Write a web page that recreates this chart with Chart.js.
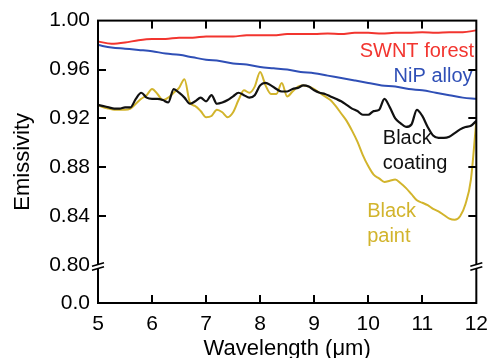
<!DOCTYPE html>
<html>
<head>
<meta charset="utf-8">
<script src="https://cdn.jsdelivr.net/npm/chart.js@4.4.0/dist/chart.umd.min.js"></script>
<style>
  html, body { margin: 0; padding: 0; background: #fff; }
</style>
</head>
<body>
<canvas id="emissivityChart" width="497" height="358"></canvas>
<script>
// wavelength grid (µm) for the two black samples
const wavelengths = [
  5.0, 5.1, 5.2, 5.3, 5.4, 5.5, 5.6, 5.7, 5.8, 5.9,
  6.0, 6.1, 6.2, 6.3, 6.4, 6.5, 6.6, 6.7, 6.8, 6.9,
  7.0, 7.1, 7.2, 7.3, 7.4, 7.5, 7.6, 7.7, 7.8, 7.9,
  8.0, 8.1, 8.2, 8.3, 8.4, 8.5, 8.6, 8.7, 8.8, 8.9,
  9.0, 9.1, 9.2, 9.3, 9.4, 9.5, 9.6, 9.7, 9.8, 9.9,
  10.0, 10.1, 10.2, 10.3, 10.4, 10.5, 10.6, 10.7, 10.8, 10.9,
  11.0, 11.1, 11.2, 11.3, 11.4, 11.5, 11.6, 11.7, 11.8, 11.9,
  12.0,
];

const blackCoating = [
  0.931, 0.930, 0.929, 0.928, 0.928, 0.929, 0.929, 0.936, 0.941, 0.937,
  0.936, 0.936, 0.935, 0.933, 0.944, 0.941, 0.937, 0.932, 0.934, 0.937,
  0.934, 0.939, 0.932, 0.933, 0.935, 0.938, 0.941, 0.939, 0.937, 0.939,
  0.947, 0.949, 0.947, 0.944, 0.942, 0.942, 0.944, 0.945, 0.947, 0.946,
  0.943, 0.941, 0.940, 0.938, 0.936, 0.934, 0.931, 0.928, 0.926, 0.923,
  0.923, 0.926, 0.927, 0.936, 0.929, 0.920, 0.916, 0.913, 0.915, 0.927,
  0.922, 0.913, 0.906, 0.904, 0.904, 0.905, 0.908, 0.911, 0.913, 0.914,
  0.918,
];

const blackPaint = [
  0.931, 0.929, 0.928, 0.927, 0.927, 0.927, 0.928, 0.932, 0.936, 0.939,
  0.944, 0.940, 0.935, 0.937, 0.941, 0.945, 0.952, 0.933, 0.930, 0.926,
  0.921, 0.922, 0.927, 0.925, 0.921, 0.925, 0.935, 0.943, 0.941, 0.946,
  0.958, 0.947, 0.940, 0.940, 0.949, 0.938, 0.942, 0.946, 0.947, 0.946,
  0.944, 0.941, 0.938, 0.935, 0.930, 0.924, 0.918, 0.910, 0.901, 0.890,
  0.881, 0.874, 0.871, 0.868, 0.869, 0.870, 0.867, 0.863, 0.858, 0.853,
  0.851, 0.849, 0.846, 0.844, 0.841, 0.838, 0.837, 0.840, 0.850, 0.870,
  0.918,
];

// coarser grid for the two smooth samples
const coarseWavelengths = [
  5.0, 5.25, 5.5, 5.75, 6.0, 6.25, 6.5, 6.75, 7.0, 7.25,
  7.5, 7.75, 8.0, 8.25, 8.5, 8.75, 9.0, 9.25, 9.5, 9.75,
  10.0, 10.25, 10.5, 10.75, 11.0, 11.25, 11.5, 11.75, 12.0,
];

const swntForest = [
  0.983, 0.981, 0.982, 0.984, 0.985, 0.985, 0.986, 0.986, 0.987, 0.987,
  0.987, 0.988, 0.988, 0.988, 0.989, 0.989, 0.989, 0.9895, 0.989, 0.990,
  0.990, 0.9895, 0.990, 0.990, 0.9905, 0.990, 0.9905, 0.9905, 0.992,
];

const nipAlloy = [
  0.980, 0.978, 0.977, 0.976, 0.975, 0.973, 0.972, 0.970, 0.968, 0.967,
  0.965, 0.964, 0.962, 0.961, 0.960, 0.958, 0.957, 0.955, 0.953, 0.951,
  0.949, 0.947, 0.946, 0.944, 0.943, 0.941, 0.939, 0.937, 0.936,
];

// broken y axis: everything below 0.80 is squeezed into a short stub labelled 0.0
const breakValue = 0.80;
const yAxisMin = 0.769;
const yTickValues = [yAxisMin, 0.80, 0.84, 0.88, 0.92, 0.96, 1.00];
const xTickValues = [5, 6, 7, 8, 9, 10, 11, 12];

const colors = {
  coating: "#111111",
  paint: "#d2b42c",
  swnt: "#f2352f",
  nip: "#2f4fb6",
};

const seriesLabels = [
  { lines: ["SWNT forest"], x: 11.96, y: 0.9706, align: "right", color: colors.swnt },
  { lines: ["NiP alloy"], x: 11.93, y: 0.9494, align: "right", color: colors.nip },
  { lines: ["Black", "coating"], x: 10.27, y: 0.8988, align: "left", color: colors.coating },
  { lines: ["Black", "paint"], x: 9.98, y: 0.8392, align: "left", color: colors.paint },
];

const fontFamily = "'Liberation Sans', Arial, Helvetica, sans-serif";

function points(xs, ys) {
  return xs.map((x, i) => ({ x, y: ys[i] }));
}

const frameAndBreaks = {
  id: "frameAndBreaks",
  afterDraw(chart) {
    const { ctx, chartArea: area, scales } = chart;
    const xScale = scales.x;
    const yScale = scales.y;
    const tickLen = 8;
    ctx.save();
    ctx.strokeStyle = "#000000";
    ctx.fillStyle = "#000000";
    ctx.lineWidth = 2;
    ctx.strokeRect(area.left, area.top, area.right - area.left, area.bottom - area.top);

    // inward tick marks on all four sides
    xTickValues.slice(1, -1).forEach((value) => {
      const px = Math.round(xScale.getPixelForValue(value));
      ctx.fillRect(px - 1, area.bottom - tickLen, 2, tickLen);
      ctx.fillRect(px - 1, area.top, 2, tickLen);
    });
    yTickValues.filter((v) => v > breakValue && v < 1.0).forEach((value) => {
      const py = Math.round(yScale.getPixelForValue(value));
      ctx.fillRect(area.left, py - 1, tickLen, 2);
      ctx.fillRect(area.right - tickLen, py - 1, tickLen, 2);
    });

    // axis break marks
    const by = yScale.getPixelForValue(breakValue) + 1.5;
    [area.left, area.right].forEach((bx) => {
      ctx.fillStyle = "#ffffff";
      ctx.beginPath();
      ctx.moveTo(bx - 6, by - 0.25);
      ctx.lineTo(bx + 6, by - 3.75);
      ctx.lineTo(bx + 6, by + 0.25);
      ctx.lineTo(bx - 6, by + 3.75);
      ctx.closePath();
      ctx.fill();
      ctx.lineWidth = 1.6;
      ctx.beginPath();
      ctx.moveTo(bx - 6, by - 0.25);
      ctx.lineTo(bx + 6, by - 3.75);
      ctx.moveTo(bx - 6, by + 3.75);
      ctx.lineTo(bx + 6, by + 0.25);
      ctx.stroke();
    });
    ctx.restore();
  },
};

const seriesLabelPlugin = {
  id: "seriesLabels",
  afterDraw(chart) {
    const { ctx, scales } = chart;
    ctx.save();
    ctx.font = `20px ${fontFamily}`;
    ctx.textBaseline = "alphabetic";
    seriesLabels.forEach((label) => {
      ctx.fillStyle = label.color;
      ctx.textAlign = label.align;
      const px = scales.x.getPixelForValue(label.x);
      const py = scales.y.getPixelForValue(label.y);
      label.lines.forEach((line, i) => ctx.fillText(line, px, py + i * 25));
    });
    ctx.restore();
  },
};

new Chart(document.querySelector("#emissivityChart"), {
  type: "line",
  data: {
    datasets: [
      { label: "Black coating", data: points(wavelengths, blackCoating), borderColor: colors.coating, borderWidth: 2.2 },
      { label: "Black paint", data: points(wavelengths, blackPaint), borderColor: colors.paint, borderWidth: 2 },
      { label: "SWNT forest", data: points(coarseWavelengths, swntForest), borderColor: colors.swnt, borderWidth: 2 },
      { label: "NiP alloy", data: points(coarseWavelengths, nipAlloy), borderColor: colors.nip, borderWidth: 2 },
    ],
  },
  options: {
    responsive: false,
    animation: false,
    devicePixelRatio: 1,
    layout: { padding: { top: 20, right: 14, bottom: 0, left: 0 } },
    elements: {
      point: { radius: 0 },
      line: { cubicInterpolationMode: "monotone", fill: false },
    },
    plugins: { legend: { display: false }, tooltip: { enabled: false } },
    scales: {
      x: {
        type: "linear",
        min: 5,
        max: 12,
        grid: { display: false, drawTicks: false },
        border: { display: false },
        afterBuildTicks: (scale) => { scale.ticks = xTickValues.map((value) => ({ value })); },
        ticks: { color: "#000", padding: 9, font: { family: fontFamily, size: 21 } },
        title: {
          display: true,
          text: "Wavelength (μm)",
          color: "#000",
          font: { family: fontFamily, size: 22 },
          padding: { top: 0, bottom: -4 },
        },
        afterFit: (scale) => { scale.height = 55; },
      },
      y: {
        type: "linear",
        min: yAxisMin,
        max: 1.0,
        grid: { display: false, drawTicks: false },
        border: { display: false },
        afterBuildTicks: (scale) => { scale.ticks = yTickValues.map((value) => ({ value })); },
        ticks: {
          color: "#000",
          padding: 8,
          font: { family: fontFamily, size: 21 },
          callback: (value) => (value < breakValue ? "0.0" : Number(value).toFixed(2)),
        },
        title: {
          display: true,
          text: "Emissivity",
          color: "#000",
          font: { family: fontFamily, size: 22 },
          padding: { top: 10, bottom: 0 },
        },
        afterFit: (scale) => { scale.width = 98; },
      },
    },
  },
  plugins: [frameAndBreaks, seriesLabelPlugin],
});
</script>
</body>
</html>
